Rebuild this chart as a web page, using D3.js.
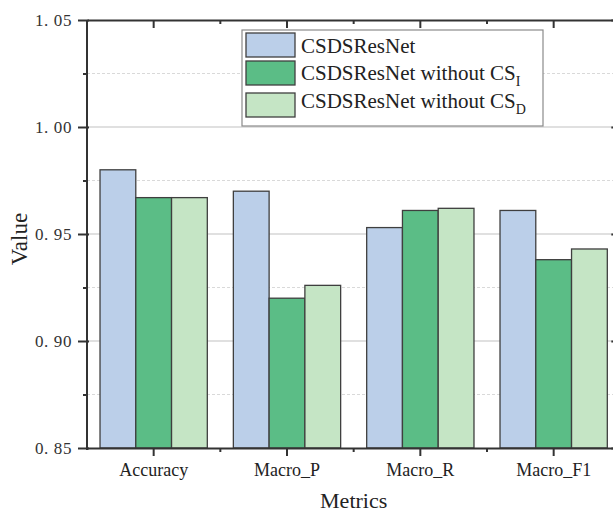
<!DOCTYPE html>
<html>
<head>
<meta charset="utf-8">
<script src="https://cdn.jsdelivr.net/npm/d3@7"></script>
<style>
  body { margin: 0; background: #fff; }
  svg { display: block; font-family: "Liberation Serif", "Times New Roman", serif; }
</style>
</head>
<body>
<svg width="613" height="512"></svg>
<script>
var categories = ["Accuracy", "Macro_P", "Macro_R", "Macro_F1"];
var series = ["CSDSResNet", "without_I", "without_D"];
var colors = ["#bbcfe9", "#5bbd86", "#c5e5c5"];
var valuesFull = [0.980, 0.970, 0.953, 0.961];
var valuesNoI = [0.967, 0.920, 0.961, 0.938];
var valuesNoD = [0.967, 0.926, 0.962, 0.943];
var majorTicks = [0.85, 0.90, 0.95, 1.00, 1.05];
var minorTicks = [0.875, 0.925, 0.975, 1.025];

var allValues = [valuesFull, valuesNoI, valuesNoD];

var svg = d3.select('svg');

var plotLeft = 87, plotRight = 620.33, plotTop = 20, plotBottom = 448;

var x = d3.scaleBand()
    .domain(categories)
    .range([plotLeft, plotRight]);

var x1 = d3.scaleBand()
    .domain(series)
    .range([0, x.bandwidth()])
    .paddingOuter(0.364);

var y = d3.scaleLinear()
    .domain([0.85, 1.05])
    .range([plotBottom, plotTop]);

// grid
svg.append('g')
    .selectAll('line')
    .data(majorTicks.slice(1, 4))
    .enter()
    .append('line')
    .attr('x1', plotLeft).attr('x2', plotRight)
    .attr('y1', function(d){ return y(d); })
    .attr('y2', function(d){ return y(d); })
    .style('stroke', '#d6d6d6')
    .style('stroke-width', 1.5);

svg.append('g')
    .selectAll('line')
    .data(minorTicks)
    .enter()
    .append('line')
    .attr('x1', plotLeft).attr('x2', plotRight)
    .attr('y1', function(d){ return y(d); })
    .attr('y2', function(d){ return y(d); })
    .style('stroke', '#d9d9d9')
    .style('stroke-width', 1)
    .style('stroke-dasharray', '3,2');

// bars
var rows = [];
categories.forEach(function(c, i){
    series.forEach(function(s, j){
        rows.push({ cat: c, ser: s, idx: j, value: allValues[j][i] });
    });
});

svg.append('g')
    .selectAll('rect')
    .data(rows)
    .enter()
    .append('rect')
    .attr('x', function(d){ return x(d.cat) + x1(d.ser); })
    .attr('y', function(d){ return y(d.value); })
    .attr('width', x1.bandwidth())
    .attr('height', function(d){ return y(0.85) - y(d.value); })
    .style('fill', function(d){ return colors[d.idx]; })
    .style('stroke', '#3f3f3f')
    .style('stroke-width', 1.3);

function fmt(d){ return d3.format('.2f')(d).replace('.', '. '); }

function styleAxis(g){
    g.attr('font-family', null);
    g.selectAll('.domain').style('stroke', '#333').style('stroke-width', 2);
    g.selectAll('.tick line').style('stroke', '#333').style('stroke-width', 2);
}

// left axis
svg.append('g')
    .attr('transform', 'translate(' + plotLeft + ',0)')
    .call(d3.axisLeft(y).tickValues(majorTicks).tickSize(9).tickPadding(6).tickFormat(fmt).tickSizeOuter(0))
    .call(styleAxis)
    .call(function(g){
        g.selectAll('.tick line').attr('x2', -9).attr('x1', 2);
        g.selectAll('text').style('font-size', '17px').style('letter-spacing', '0.6px').style('fill', '#333');
        g.select('.domain').attr('d', 'M0,' + plotTop + 'V' + (plotBottom + 2));
    });

svg.append('g')
    .attr('transform', 'translate(' + plotLeft + ',0)')
    .call(d3.axisLeft(y).tickValues(minorTicks).tickSize(4).tickFormat('').tickSizeOuter(0))
    .call(styleAxis)
    .call(function(g){ g.select('.domain').remove(); });

// right axis (ticks inward)
svg.append('g')
    .attr('transform', 'translate(' + plotRight + ',0)')
    .call(d3.axisRight(y).tickValues(majorTicks).tickSize(-9).tickFormat('').tickSizeOuter(0))
    .call(styleAxis);

// bottom axis
svg.append('g')
    .attr('transform', 'translate(0,' + plotBottom + ')')
    .call(d3.axisBottom(x).tickSize(8).tickSizeOuter(0))
    .call(styleAxis)
    .call(function(g){
        g.selectAll('text').attr('y', 15).attr('dy', '0.71em').style('font-size', '18px').style('fill', '#222');
    });

svg.append('g')
    .selectAll('line')
    .data(categories.slice(1))
    .enter()
    .append('line')
    .attr('x1', function(d){ return x(d); })
    .attr('x2', function(d){ return x(d); })
    .attr('y1', plotBottom)
    .attr('y2', plotBottom + 4)
    .style('stroke', '#333')
    .style('stroke-width', 2);

// top axis (ticks inward)
svg.append('g')
    .attr('transform', 'translate(0,' + plotTop + ')')
    .call(d3.axisTop(x).tickSize(-8).tickFormat('').tickSizeOuter(0))
    .call(styleAxis);

svg.append('g')
    .selectAll('line')
    .data(categories.slice(1))
    .enter()
    .append('line')
    .attr('x1', function(d){ return x(d); })
    .attr('x2', function(d){ return x(d); })
    .attr('y1', plotTop)
    .attr('y2', plotTop + 4)
    .style('stroke', '#333')
    .style('stroke-width', 2);

// axis titles
svg.append('text')
    .attr('transform', 'translate(27,239) rotate(-90)')
    .attr('text-anchor', 'middle')
    .style('font-size', '23px')
    .style('fill', '#222')
    .text('Value');

svg.append('text')
    .attr('x', (plotLeft + plotRight) / 2)
    .attr('y', 508)
    .attr('text-anchor', 'middle')
    .style('font-size', '22px')
    .style('fill', '#222')
    .text('Metrics');

// legend
var legend = svg.append('g');
legend.append('rect')
    .attr('x', 242).attr('y', 30)
    .attr('width', 301).attr('height', 96)
    .style('fill', '#fff')
    .style('stroke', '#8a8a8a')
    .style('stroke-width', 1.2);

var legendRows = [
    { top: 33, base: 53, sub: null },
    { top: 61, base: 80, sub: 'I' },
    { top: 93, base: 108, sub: 'D' }
];

legendRows.forEach(function(r, i){
    legend.append('rect')
        .attr('x', 246).attr('y', r.top)
        .attr('width', 49).attr('height', 24)
        .style('fill', colors[i])
        .style('stroke', '#3f3f3f')
        .style('stroke-width', 1.3);
    var t = legend.append('text')
        .attr('x', 301).attr('y', r.base)
        .style('font-size', '21px')
        .style('fill', '#222');
    if (r.sub === null) {
        t.text('CSDSResNet');
    } else {
        t.append('tspan').text('CSDSResNet without CS');
        t.append('tspan').attr('dy', 6).style('font-size', '14px').text(r.sub);
    }
});
</script>
</body>
</html>
